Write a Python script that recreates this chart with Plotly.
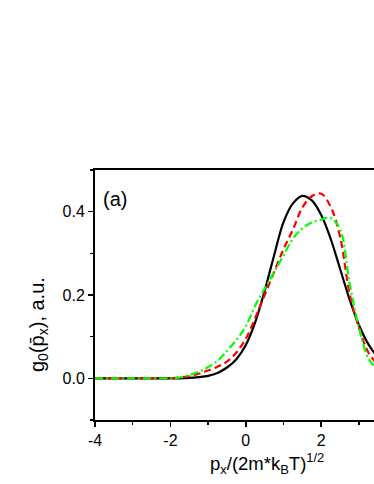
import plotly.graph_objects as go

x_vals = [-4, -3, -2, -1.75, -1.5, -1.25, -1.0, -0.75, -0.5, -0.25, 0, 0.25, 0.5, 0.75,
          1.0, 1.25, 1.5, 1.75, 2.0, 2.25, 2.5, 2.75, 3.0, 3.25, 3.5]
black_vals = [0, 0, 0, 0, 0.001, 0.003, 0.006, 0.013, 0.026, 0.046, 0.08, 0.135, 0.21, 0.295,
              0.375, 0.42, 0.438, 0.427, 0.392, 0.335, 0.263, 0.19, 0.128, 0.082, 0.05]
red_vals = [0, 0, 0, 0.002, 0.005, 0.011, 0.019, 0.028, 0.04, 0.062, 0.095, 0.145, 0.2, 0.255,
            0.31, 0.357, 0.41, 0.437, 0.443, 0.412, 0.34, 0.205, 0.122, 0.062, 0.032]
green_vals = [0, 0, 0, 0.002, 0.008, 0.016, 0.027, 0.042, 0.066, 0.092, 0.125, 0.175, 0.215, 0.255,
              0.295, 0.335, 0.36, 0.374, 0.381, 0.385, 0.358, 0.23, 0.122, 0.048, 0.02]

x_ticks = [-4, -2, 0, 2]
x_tick_text = ["-4", "-2", "0", "2"]
y_ticks = [0.0, 0.2, 0.4]
y_tick_text = ["0.0", "0.2", "0.4"]

FONT = "Liberation Sans, Arial, sans-serif"

fig = go.Figure()
fig.add_trace(go.Scatter(x=x_vals, y=black_vals, mode="lines",
                         line=dict(color="black", width=2.2, shape="spline", smoothing=1.0)))
fig.add_trace(go.Scatter(x=x_vals, y=red_vals, mode="lines",
                         line=dict(color="#ff0000", width=2.2, dash="7px,4px", shape="spline", smoothing=1.0)))
fig.add_trace(go.Scatter(x=x_vals, y=green_vals, mode="lines",
                         line=dict(color="#00ff00", width=2.2, dash="8px,3px,2px,3px", shape="spline", smoothing=1.0)))

fig.update_layout(
    width=374, height=484,
    margin=dict(l=95, r=0, t=170, b=64),
    paper_bgcolor="white", plot_bgcolor="white",
    showlegend=False,
    font=dict(family=FONT, color="black"),
    xaxis=dict(range=[-4, 3.4], tickvals=x_ticks, ticktext=x_tick_text, ticks="outside", ticklen=5,
               tickwidth=1.5, tickcolor="black", showline=True, linecolor="black", linewidth=2,
               mirror=True, showgrid=False, zeroline=False, tickfont=dict(size=16, family=FONT),
               minor=dict(dtick=1, tick0=-4, ticks="outside", ticklen=3, tickwidth=1.5, tickcolor="black")),
    yaxis=dict(range=[-0.1, 0.5], tickvals=y_ticks, ticktext=y_tick_text, ticks="outside", ticklen=5,
               tickwidth=1.5, tickcolor="black", showline=True, linecolor="black", linewidth=2,
               mirror=False, showgrid=False, zeroline=False, tickfont=dict(size=16, family=FONT),
               minor=dict(dtick=0.1, tick0=0, ticks="outside", ticklen=3, tickwidth=1.5, tickcolor="black")),
    annotations=[
        dict(text="(a)", xref="paper", yref="paper", x=0, y=1, xshift=6, yshift=-16,
             xanchor="left", yanchor="top", showarrow=False, font=dict(size=20, family=FONT)),
        dict(text="g<sub>0</sub>(p\u0304<sub>x</sub>), a.u.", xref="paper", yref="paper",
             x=0, y=0.38, xshift=-57, xanchor="center", yanchor="middle", textangle=-90,
             showarrow=False, font=dict(size=20, family=FONT)),
        dict(text="p<sub>x</sub>/(2m*k<sub>B</sub>T)<sup>1/2</sup>", xref="paper", yref="paper",
             x=0.616, y=-0.16, yshift=-3, xanchor="center", yanchor="middle", showarrow=False,
             font=dict(size=18.5, family=FONT)),
    ],
)

fig.write_html(
    "out.html",
    config={"displayModeBar": False, "staticPlot": True},
    post_script="document.body.style.margin='0';document.body.style.overflow='hidden';",
)
